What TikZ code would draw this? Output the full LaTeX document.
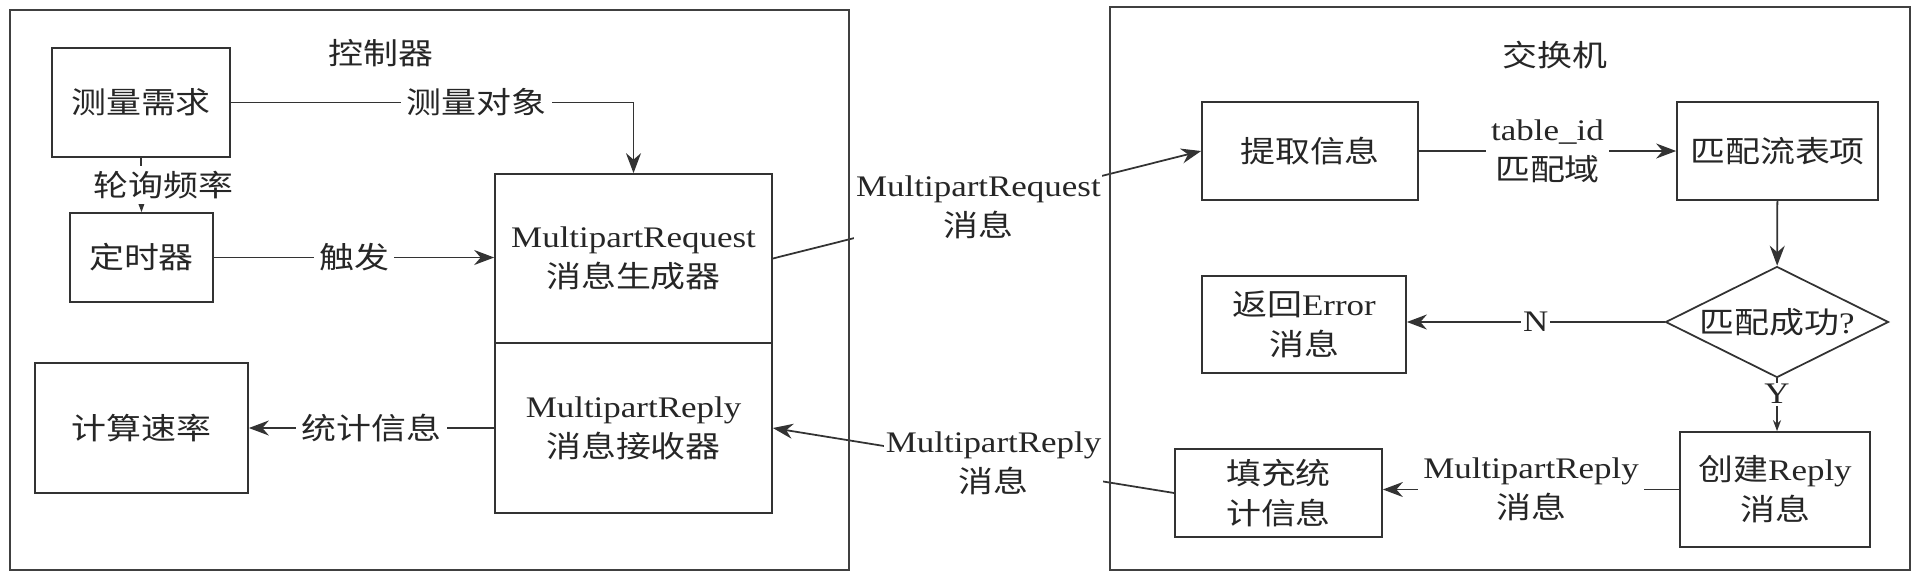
\documentclass[tikz,border=0pt]{standalone}
\usepackage{fontspec}
\setmainfont{Liberation Serif}[FakeStretch=1.17]
\newfontfamily\zhfont{Noto Sans CJK SC}[FakeStretch=1.17]
\newcommand{\zh}[1]{{\zhfont #1}}
\usepackage{tikz}
\usetikzlibrary{arrows.meta,positioning,shapes.geometric}
\tikzset{
    % Process box
    box/.style={rectangle,draw=black!80,line width=1pt,inner sep=2pt,align=center,text=black!85},
    % Frame round each device
    frame/.style={draw=black!75,line width=1pt},
    % Decision diamond
    decision/.style={diamond,draw=black!80,line width=1pt,inner sep=0pt},
    % Text sitting on a line
    lbl/.style={fill=white,inner sep=3pt,align=center,text=black!85},
    % Flow arrow
    arr/.style={-{Stealth[length=4mm,width=3mm]},line width=1pt,draw=black!80},
    % Short arrow
    smallarr/.style={-{Stealth[length=2.2mm,width=1.6mm]},line width=1pt,draw=black!80}
}

\begin{document}
\begin{tikzpicture}[x=0.02cm,y=-0.02cm,font={\fontsize{17}{22.8}\selectfont}]
    \useasboundingbox (0,0) rectangle (1929,582);

    % Titles
    \node[text=black!85] (ctrl) at (381,53) {\zh{控制器}};
    \node[text=black!85] (sw) at (1555,55) {\zh{交换机}};

    % Controller side
    \node[box,minimum width=3.56cm,minimum height=2.18cm] (meas) at (141,102.5) {\zh{测量需求}};
    \node[box,minimum width=2.86cm,minimum height=1.78cm] (timer) at (141.5,257.5) {\zh{定时器}};
    \node[box,minimum width=5.54cm,minimum height=3.38cm] (gen) at (633.5,258.5) {MultipartRequest\\\zh{消息生成器}};
    \node[box,minimum width=5.54cm,minimum height=3.40cm] (recv) at (633.5,428) {MultipartReply\\\zh{消息接收器}};
    \node[box,minimum width=4.26cm,minimum height=2.6cm] (rate) at (141.5,428) {\zh{计算速率}};

    % Switch side
    \node[box,minimum width=4.32cm,minimum height=1.96cm] (extract) at (1310,151) {\zh{提取信息}};
    \node[box,minimum width=4.02cm,minimum height=1.96cm] (match) at (1777.5,151) {\zh{匹配流表项}};
    \node[decision,minimum width=4.46cm,minimum height=2.22cm] (check) at (1777,322) {};
    \node[text=black!85] (checktxt) at (check) {\zh{匹配成功}?};
    \node[box,minimum width=4.08cm,minimum height=1.94cm] (err) at (1304,324.5) {\zh{返回}Error\\\zh{消息}};
    \node[box,minimum width=3.8cm,minimum height=2.3cm] (create) at (1775,489.5) {\zh{创建}Reply\\\zh{消息}};
    \node[box,minimum width=4.14cm,minimum height=1.76cm] (fillst) at (1278.5,493) {\zh{填充统}\\\zh{计信息}};

    % Controller arrows
    \draw[arr] (meas.east) -- node[lbl,pos=0.61] {\zh{测量对象}} (meas.east -| gen.north) -- (gen.north);
    \draw[smallarr] (meas.south) -- node[lbl,xshift=0.44cm] {\zh{轮询频率}} (timer.north);
    \draw[arr] (timer.east) -- node[lbl] {\zh{触发}} (timer.east -| gen.west);
    \draw[arr] (recv.west) -- node[lbl] {\zh{统计信息}} (rate.east);

    % Messages between the two
    \draw[arr] (gen.east) -- node[lbl,inner sep=1pt,pos=0.48] {MultipartRequest\\\zh{消息}} (extract.west);
    \draw[arr] (fillst.west) -- node[lbl,inner sep=1pt,pos=0.45] {MultipartReply\\\zh{消息}} (recv.east);

    % Switch arrows
    \draw[arr] (extract) -- node[lbl] {table\_id\\\zh{匹配域}} (match);
    \draw[arr] (match) -- (check);
    \draw[arr] (check.west) -- node[lbl,inner sep=1pt] {N} (check.west -| err.east);
    \draw[smallarr] (check.south) -- node[lbl,inner sep=1pt,pos=0.3] {Y} (check.south |- create.north);
    \draw[arr] (create.west) -- node[lbl] {MultipartReply\\\zh{消息}} (create.west -| fillst.east);

    % Controller and switch frames, drawn last so labels do not hide them
    \draw[frame] (10,10) rectangle (849,570);
    \draw[frame] (1110,7) rectangle (1910,570);
\end{tikzpicture}
\end{document}
